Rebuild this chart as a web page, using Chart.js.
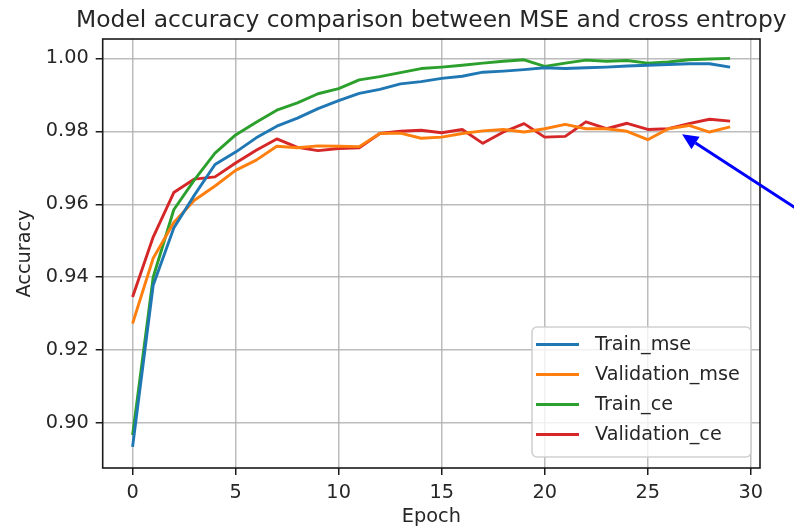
<!DOCTYPE html>
<html><head><meta charset="utf-8">
<script src="https://cdn.jsdelivr.net/npm/chart.js@4/dist/chart.umd.min.js"></script>
<style>html,body{margin:0;padding:0;background:#fff;} #wrap{width:794px;height:529px;position:relative;}</style>
</head><body><div id="wrap"><canvas id="c" width="794" height="529"></canvas></div>
<script>
const epochs = [0,1,2,3,4,5,6,7,8,9,10,11,12,13,14,15,16,17,18,19,20,21,22,23,24,25,26,27,28,29];
const trainMse = [0.8935,0.9378,0.9535,0.9625,0.9709,0.9743,0.9782,0.9814,0.9836,0.9862,0.9884,0.9904,0.9915,0.9930,0.9936,0.9945,0.9951,0.9962,0.9965,0.9969,0.9974,0.9972,0.9974,0.9976,0.9979,0.9981,0.9983,0.9985,0.9985,0.9976];
const valMse = [0.9273,0.9452,0.9550,0.9611,0.9650,0.9693,0.9721,0.9759,0.9755,0.9760,0.9759,0.9758,0.9794,0.9795,0.9781,0.9784,0.9794,0.9801,0.9805,0.9798,0.9807,0.9819,0.9807,0.9807,0.9800,0.9777,0.9807,0.9816,0.9798,0.9812];
const trainCe = [0.8967,0.9400,0.9585,0.9667,0.9740,0.9790,0.9825,0.9858,0.9878,0.9903,0.9917,0.9941,0.9950,0.9961,0.9972,0.9976,0.9981,0.9987,0.9992,0.9996,0.9978,0.9987,0.9995,0.9992,0.9994,0.9987,0.9990,0.9996,0.9998,1.0000];
const valCe = [0.9346,0.9510,0.9632,0.9669,0.9675,0.9713,0.9748,0.9779,0.9756,0.9747,0.9753,0.9755,0.9794,0.9800,0.9803,0.9796,0.9805,0.9767,0.9798,0.9821,0.9784,0.9786,0.9826,0.9807,0.9822,0.9805,0.9807,0.9821,0.9833,0.9828];
const seriesLabels = ['Train_mse','Validation_mse','Train_ce','Validation_ce'];
const seriesColors = ['#1f77b4','#ff7f0e','#2ca02c','#d62728'];
const xTicks = [0,5,10,15,20,25,30];
const yTicks = [0.90,0.92,0.94,0.96,0.98,1.00];
const yTickLabels = ['0.90','0.92','0.94','0.96','0.98','1.00'];
const titleText = 'Model accuracy comparison between MSE and cross entropy';
const xTitle = 'Epoch';
const yTitle = 'Accuracy';
const arrowTip = {x: 26.67, y: 0.9792};
const arrowTail = {x: 32.2, y: 0.9589};

const FONT = '"DejaVu Sans", "Liberation Sans", sans-serif';
const TXT = '#262626';

const seriesValues = [trainMse, valMse, trainCe, valCe];
const datasets = seriesValues.map((vals, k) => ({
  label: seriesLabels[k],
  data: vals.map((v, i) => ({x: epochs[i], y: v})),
  borderColor: seriesColors[k],
  backgroundColor: seriesColors[k],
  borderWidth: 2.9,
  pointRadius: 0,
  pointHoverRadius: 0,
  tension: 0,
  fill: false,
  borderJoinStyle: 'round',
  borderCapStyle: 'butt'
}));

const decor = {
  id: 'decor',
  afterDraw(chart) {
    const ctx = chart.ctx, a = chart.chartArea;
    ctx.save();
    // spines
    ctx.strokeStyle = '#1a1a1a';
    ctx.lineWidth = 1.6;
    ctx.strokeRect(a.left, a.top, a.right - a.left, a.bottom - a.top);

    // legend
    const bx = a.right - 228, by = a.bottom - 141, bw = 219, bh = 130, r = 5;
    ctx.beginPath();
    ctx.moveTo(bx + r, by);
    ctx.arcTo(bx + bw, by, bx + bw, by + bh, r);
    ctx.arcTo(bx + bw, by + bh, bx, by + bh, r);
    ctx.arcTo(bx, by + bh, bx, by, r);
    ctx.arcTo(bx, by, bx + bw, by, r);
    ctx.closePath();
    ctx.fillStyle = 'rgba(255,255,255,0.8)';
    ctx.fill();
    ctx.strokeStyle = 'rgba(204,204,204,0.9)';
    ctx.lineWidth = 1.6;
    ctx.stroke();
    ctx.font = '19.2px ' + FONT;
    ctx.textAlign = 'left';
    ctx.textBaseline = 'middle';
    chart.data.datasets.forEach((ds, i) => {
      const cy = by + 17.5 + i * 30;
      ctx.strokeStyle = ds.borderColor;
      ctx.lineWidth = 2.9;
      ctx.beginPath();
      ctx.moveTo(bx + 4, cy);
      ctx.lineTo(bx + 47, cy);
      ctx.stroke();
      ctx.fillStyle = TXT;
      ctx.fillText(ds.label, bx + 63, cy + 1);
    });

    // title
    ctx.fillStyle = TXT;
    ctx.font = '23.4px ' + FONT;
    ctx.textAlign = 'center';
    ctx.textBaseline = 'alphabetic';
    ctx.fillText(titleText, (a.left + a.right) / 2, 27);

    // arrow annotation
    const xs = chart.scales.x, ys = chart.scales.y;
    const tx = xs.getPixelForValue(arrowTip.x), ty = ys.getPixelForValue(arrowTip.y);
    const sx = xs.getPixelForValue(arrowTail.x), sy = ys.getPixelForValue(arrowTail.y);
    const ang = Math.atan2(ty - sy, tx - sx);
    const hl = 16, hw = 7.5;
    const baseX = tx - hl * Math.cos(ang), baseY = ty - hl * Math.sin(ang);
    ctx.strokeStyle = '#0000ff';
    ctx.fillStyle = '#0000ff';
    ctx.lineWidth = 3;
    ctx.beginPath();
    ctx.moveTo(sx, sy);
    ctx.lineTo(baseX, baseY);
    ctx.stroke();
    ctx.beginPath();
    ctx.moveTo(tx, ty);
    ctx.lineTo(baseX + hw * Math.sin(ang), baseY - hw * Math.cos(ang));
    ctx.lineTo(baseX - hw * Math.sin(ang), baseY + hw * Math.cos(ang));
    ctx.closePath();
    ctx.fill();
    ctx.restore();
  }
};

new Chart(document.getElementById('c'), {
  type: 'line',
  data: { datasets },
  options: {
    responsive: false,
    animation: false,
    devicePixelRatio: 1,
    layout: { padding: { top: 39, right: 34, bottom: 0, left: 0 } },
    plugins: { legend: { display: false }, title: { display: false }, tooltip: { enabled: false } },
    scales: {
      x: {
        type: 'linear',
        min: -1.45, max: 30.45,
        afterBuildTicks: (s) => { s.ticks = xTicks.map(v => ({value: v})); },
        afterFit: (s) => { s.height = 61; },
        ticks: { color: TXT, font: { family: FONT, size: 19.3 }, padding: 6, maxRotation: 0, autoSkip: false,
                 callback: (v) => String(v) },
        grid: { color: 'rgba(176,176,176,0.85)', lineWidth: 1.5, drawTicks: true, tickLength: 7, tickColor: '#1a1a1a', tickWidth: 1.5 },
        border: { display: false },
        title: { display: true, text: xTitle, color: TXT, font: { family: FONT, size: 19.3 }, padding: { top: 0, bottom: 0 } }
      },
      y: {
        type: 'linear',
        min: 0.8877, max: 1.0053,
        afterBuildTicks: (s) => { s.ticks = yTicks.map(v => ({value: v})); },
        afterFit: (s) => { s.width = 102.7; },
        ticks: { color: TXT, font: { family: FONT, size: 19.3 }, padding: 7, autoSkip: false,
                 callback: (v, i) => yTickLabels[i] },
        grid: { color: 'rgba(176,176,176,0.85)', lineWidth: 1.5, drawTicks: true, tickLength: 7, tickColor: '#1a1a1a', tickWidth: 1.5 },
        border: { display: false },
        title: { display: true, text: yTitle, color: TXT, font: { family: FONT, size: 19.3 }, padding: { top: 13, bottom: 0 } }
      }
    }
  },
  plugins: [decor]
});
</script>
</body></html>
